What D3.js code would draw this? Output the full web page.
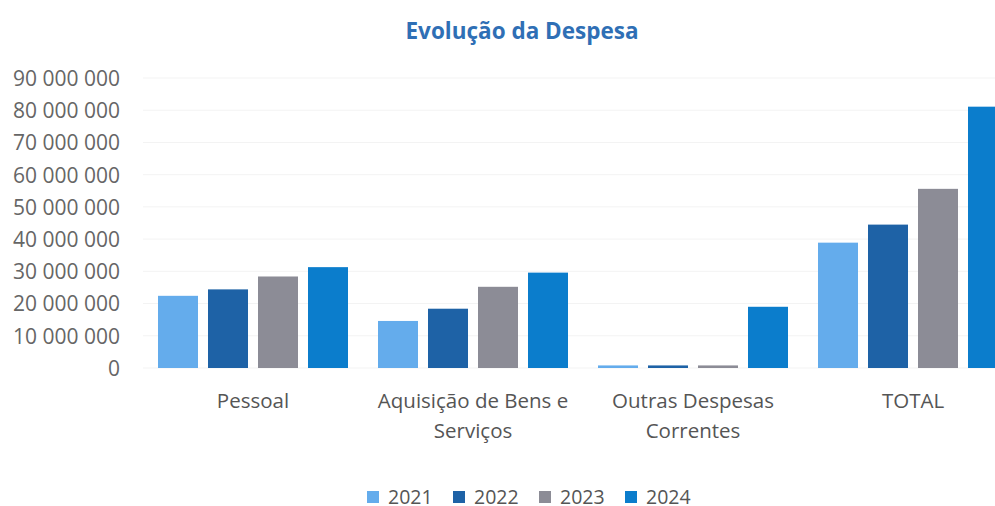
<!DOCTYPE html>
<html>
<head>
<meta charset="utf-8">
<script src="https://cdn.jsdelivr.net/npm/d3@7"></script>
<style>
  body { margin: 0; background: #fff; }
  text { font-family: "Open Sans", sans-serif; }
</style>
</head>
<body>
<script>
let categories = ["Pessoal", "Aquisição de Bens e Serviços", "Outras Despesas Correntes", "TOTAL"];
let categoryLines = [["Pessoal"], ["Aquisição de Bens e", "Serviços"], ["Outras Despesas", "Correntes"], ["TOTAL"]];
let years = ["2021", "2022", "2023", "2024"];
let values2021 = [22400000, 14600000, 800000, 38900000];
let values2022 = [24400000, 18400000, 800000, 44500000];
let values2023 = [28400000, 25200000, 800000, 55600000];
let values2024 = [31300000, 29600000, 19000000, 81100000];
let yTicks = [0, 10000000, 20000000, 30000000, 40000000, 50000000, 60000000, 70000000, 80000000, 90000000];
let colors = ["#64acec", "#1e62a6", "#8c8c96", "#0b7dcc"];

let w = 995;
let h = 506;
let series = [values2021, values2022, values2023, values2024];

let locale = d3.formatLocale({decimal: ",", thousands: " ", grouping: [3], currency: ["", "€"]});
let fmt = locale.format(",");

let svg = d3.select("body")
  .append("svg")
  .attr("width", w)
  .attr("height", h);

svg.append("text")
  .attr("x", 522)
  .attr("y", 39)
  .attr("text-anchor", "middle")
  .style("font-size", "22.5px")
  .style("font-weight", "bold")
  .style("fill", "#2f6fb5")
  .text("Evolução da Despesa");

let x0 = d3.scaleBand()
  .domain(categories)
  .range([143, 1023])
  .paddingInner(30 / 220)
  .paddingOuter(15 / 220);

let x1 = d3.scaleBand()
  .domain(years)
  .range([0, x0.bandwidth()])
  .paddingInner(0.2);

let yScale = d3.scaleLinear()
  .domain([0, 90000000])
  .range([368, 78]);

// faint gridlines
svg.append("g")
  .selectAll("line")
  .data(yTicks)
  .enter()
  .append("line")
  .attr("x1", 143)
  .attr("x2", w)
  .attr("y1", (d) => yScale(d))
  .attr("y2", (d) => yScale(d))
  .attr("stroke", "#f3f3f3")
  .attr("stroke-width", 1);

let yAxis = d3.axisLeft(yScale)
  .tickValues(yTicks)
  .tickFormat(fmt)
  .tickSize(0)
  .tickPadding(0);

let yG = svg.append("g")
  .attr("transform", "translate(120,0)")
  .call(yAxis);
yG.select(".domain").remove();
yG.selectAll("text")
  .attr("dy", "0.35em")
  .style("font-family", "'Open Sans', sans-serif")
  .style("font-size", "21px")
  .style("fill", "#666");

let groups = svg.append("g")
  .selectAll("g")
  .data(categories)
  .enter()
  .append("g")
  .attr("transform", (d) => "translate(" + x0(d) + ",0)");

groups.selectAll("rect")
  .data((d, i) => years.map((yr, j) => ({year: yr, value: series[j][i], color: colors[j]})))
  .enter()
  .append("rect")
  .attr("x", (d) => x1(d.year))
  .attr("y", (d) => yScale(d.value))
  .attr("width", x1.bandwidth())
  .attr("height", (d) => yScale(0) - yScale(d.value))
  .attr("fill", (d) => d.color);

let xAxis = d3.axisBottom(x0).tickSize(0).tickFormat("");
let xG = svg.append("g")
  .attr("transform", "translate(0,368)")
  .call(xAxis);
xG.select(".domain").remove();
xG.selectAll(".tick")
  .each(function(d, i) {
    let t = d3.select(this).append("text")
      .attr("text-anchor", "middle")
      .attr("y", 40)
      .style("font-size", "20.5px")
      .style("fill", "#555");
    categoryLines[i].forEach((line, k) => {
      t.append("tspan").attr("x", 0).attr("dy", k === 0 ? 0 : 30).text(line);
    });
  });

let legend = svg.append("g")
  .selectAll("g")
  .data(years)
  .enter()
  .append("g")
  .attr("transform", (d, i) => "translate(" + (367 + i * 86) + ",497)");

legend.append("rect")
  .attr("x", 0)
  .attr("y", -6)
  .attr("width", 12)
  .attr("height", 12)
  .attr("fill", (d, i) => colors[i]);

legend.append("text")
  .attr("x", 21)
  .attr("y", 7)
  .style("font-size", "19.5px")
  .style("fill", "#555")
  .text((d) => d);
</script>
</body>
</html>
